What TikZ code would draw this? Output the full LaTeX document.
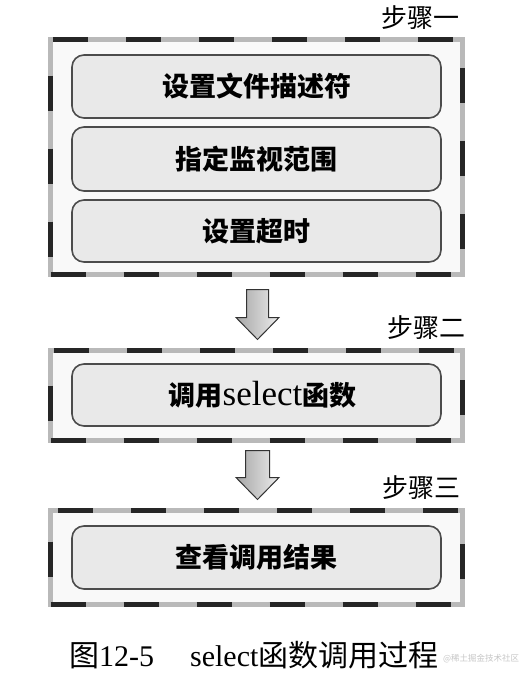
\documentclass[tikz,border=0pt]{standalone}
\usepackage{fontspec}
\setmainfont{Liberation Serif}
\newfontfamily\cjk{Noto Sans CJK SC}
\usetikzlibrary{calc}
\begin{document}
\begin{tikzpicture}[x=1pt,y=-1pt,
  stepframe/.style={draw=gray!55, line width=5pt, fill=gray!5, minimum width=412pt, inner sep=0pt,
    postaction={draw=black!85, line width=5pt, dash pattern=on 35pt off 38pt}},
  taskbox/.style={draw=gray!60!black, line width=1.6pt, rounded corners=12pt, fill=gray!17,
    minimum width=369pt, inner sep=0pt, font=\cjk\bfseries\fontsize{27}{30}\selectfont},
  steplabel/.style={font=\cjk\fontsize{26}{28}\selectfont, anchor=base east, inner sep=0pt},
  flowarrow/.style={draw=black!80, line width=1pt, left color=gray!70, right color=gray!15, line join=miter}]
\useasboundingbox (0,0) rectangle (526,686);
% step frames
\node[stepframe, minimum height=235pt] (b1) at (256.5,157) {};
\node[stepframe, minimum height=90pt] (b2) at (256.5,395.5) {};
\node[stepframe, minimum height=94pt] (b3) at (256.5,557.5) {};
% step labels
\node[steplabel] (l1) at ($(b1.north east)+(-5,-10)$) {步骤一};
\node[steplabel] (l2) at ($(b2.north east)+(1,-11)$) {步骤二};
\node[steplabel] (l3) at ($(b3.north east)+(-4,-11)$) {步骤三};
% tasks
\node[taskbox, minimum height=63pt] (t1) at (256.5,86.5) {设置文件描述符};
\node[taskbox, minimum height=64pt] (t2) at (256.5,159) {指定监视范围};
\node[taskbox, minimum height=62pt] (t3) at (256.5,231) {设置超时};
\node[taskbox, minimum height=62pt] (t4) at (256.5,395) {\hspace{12pt}调用{\rmfamily\mdseries\fontsize{35}{36}\selectfont select}函数};
\node[taskbox, minimum height=63pt] (t5) at (256.5,557.5) {查看调用结果};
% arrows
\coordinate (a1s) at ($(b1.south)+(1,12.5)$);
\coordinate (a1t) at ($(b2.north)+(1,-8.5)$);
\coordinate (a2s) at ($(b2.south)+(1,7.5)$);
\coordinate (a2t) at ($(b3.north)+(1,-8.5)$);
\path[flowarrow] ($(a1s)+(-11,0)$) -- ($(a1s)+(11,0)$) -- ($(a1t)+(11,-22)$) -- ($(a1t)+(21.5,-22)$)
  -- (a1t) -- ($(a1t)+(-21.5,-22)$) -- ($(a1t)+(-11,-22)$) -- cycle;
\path[flowarrow] ($(a2s)+(-12,0)$) -- ($(a2s)+(12,0)$) -- ($(a2t)+(12,-22)$) -- ($(a2t)+(21.5,-22)$)
  -- (a2t) -- ($(a2t)+(-21.5,-22)$) -- ($(a2t)+(-12,-22)$) -- cycle;
% watermark and caption
\node[anchor=base west, inner sep=0pt, text=gray!45, font=\cjk\fontsize{8.5}{10}\selectfont] (wm) at (443,661) {@稀土掘金技术社区};
\node[anchor=base west, inner sep=0pt, font=\fontsize{30}{34}\selectfont] (cap) at (69,666)
  {{\cjk 图}12-5\hspace{36pt}select{\cjk 函数调用过程}};
\end{tikzpicture}
\end{document}
